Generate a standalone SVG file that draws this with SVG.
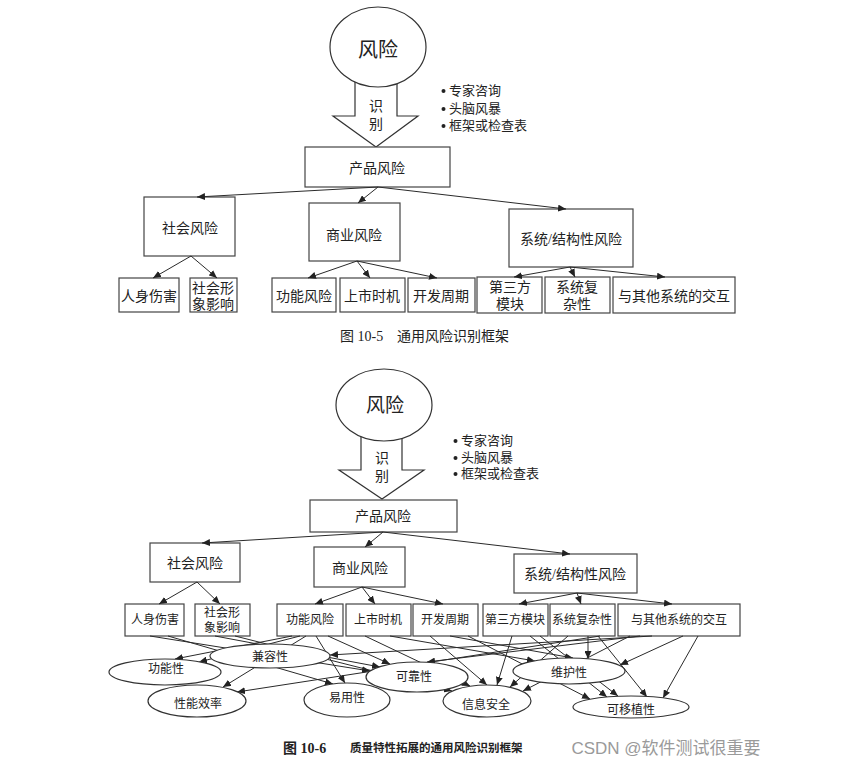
<svg xmlns="http://www.w3.org/2000/svg" width="865" height="768" viewBox="0 0 865 768">
<defs>
<marker id="ah" markerUnits="userSpaceOnUse" markerWidth="9" markerHeight="7" refX="8" refY="3.5" orient="auto">
<path d="M0,0 L8,3.5 L0,7 Z" fill="#222"/>
</marker>
<style>
text{font-family:"Liberation Serif","Noto Sans CJK SC",serif;fill:#222;text-anchor:middle;dominant-baseline:central}
.box{fill:#fff;stroke:#444;stroke-width:1.2}
.ell{fill:#fff;stroke:#333;stroke-width:1.2}
.blk{fill:#fff;stroke:#333;stroke-width:1.2}
.c line{stroke:#2a2a2a;stroke-width:1;marker-end:url(#ah)}
.t14{font-size:14px}
.t12{font-size:12px}
.bul{font-size:13px;text-anchor:start}
.dot{fill:#222}
.capl{text-anchor:start}
</style>
</defs>
<rect width="865" height="768" fill="#fff"/>

<!-- ===== Figure 10-5 ===== -->
<g id="arrow1"><polygon class="blk" points="355,80 397,80 397,116 418,116 376,147 333,116 355,116"/><text x="376" y="106" class="t14">识</text><text x="376" y="124" class="t14">别</text></g>
<g id="risk1"><ellipse class="ell" cx="378" cy="47" rx="48" ry="40"/><text x="378" y="50" style="font-size:20px">风险</text></g>
<g id="methods1">
<circle class="dot" cx="443.5" cy="91" r="2"/><text x="449" y="90" class="bul">专家咨询</text>
<circle class="dot" cx="443.5" cy="109" r="2"/><text x="449" y="108" class="bul">头脑风暴</text>
<circle class="dot" cx="443.5" cy="126" r="2"/><text x="449" y="125" class="bul">框架或检查表</text>
</g>
<g id="prod1"><rect class="box" x="305" y="147" width="145" height="40"/><text x="377" y="168" class="t14">产品风险</text></g>
<g id="soc1"><rect class="box" x="144" y="197" width="91" height="59"/><text x="190" y="228" class="t14">社会风险</text></g>
<g id="biz1"><rect class="box" x="309" y="203" width="91" height="58"/><text x="354" y="235" class="t14">商业风险</text></g>
<g id="sys1"><rect class="box" x="509" y="209" width="124" height="58"/><text x="571" y="239" class="t14">系统/结构性风险</text></g>
<g id="l1a"><rect class="box" x="119" y="278" width="60" height="34"/><text x="149" y="296" class="t14">人身伤害</text></g>
<g id="l1b"><rect class="box" x="190" y="278" width="47" height="34"/><text x="213" y="288" class="t14">社会形</text><text x="213" y="304" class="t14">象影响</text></g>
<g id="l1c"><rect class="box" x="272" y="278" width="64" height="34"/><text x="304" y="296" class="t14">功能风险</text></g>
<g id="l1d"><rect class="box" x="340" y="278" width="65" height="34"/><text x="372" y="296" class="t14">上市时机</text></g>
<g id="l1e"><rect class="box" x="408" y="278" width="67" height="34"/><text x="441" y="296" class="t14">开发周期</text></g>
<g id="l1f"><rect class="box" x="477" y="277" width="65" height="36"/><text x="510" y="287" class="t14">第三方</text><text x="510" y="304" class="t14">模块</text></g>
<g id="l1g"><rect class="box" x="545" y="277" width="65" height="36"/><text x="577" y="287" class="t14">系统复</text><text x="577" y="304" class="t14">杂性</text></g>
<g id="l1h"><rect class="box" x="613" y="277" width="122" height="36"/><text x="674" y="296" class="t14">与其他系统的交互</text></g>
<g id="caption1"><text x="340" y="336" class="capl" style="font-size:14px">图 10-5</text><text x="397" y="336" class="capl" style="font-size:14px">通用风险识别框架</text></g>

<!-- ===== Figure 10-6 ===== -->
<g id="arrow2"><polygon class="blk" points="361,432 402,432 402,470 424,470 382,499 339,470 361,470"/><text x="382" y="458" class="t14">识</text><text x="382" y="476" class="t14">别</text></g>
<g id="risk2"><ellipse class="ell" cx="384" cy="405" rx="48" ry="36"/><text x="385" y="405" style="font-size:19px">风险</text></g>
<g id="methods2">
<circle class="dot" cx="455.5" cy="441" r="2"/><text x="461" y="440" class="bul">专家咨询</text>
<circle class="dot" cx="455.5" cy="458" r="2"/><text x="461" y="457" class="bul">头脑风暴</text>
<circle class="dot" cx="455.5" cy="474" r="2"/><text x="461" y="473" class="bul">框架或检查表</text>
</g>
<g id="prod2"><rect class="box" x="310" y="500" width="147" height="32"/><text x="383" y="516" class="t14">产品风险</text></g>
<g id="soc2"><rect class="box" x="150" y="543" width="90" height="39"/><text x="195" y="563" class="t14">社会风险</text></g>
<g id="biz2"><rect class="box" x="314" y="547" width="91" height="40"/><text x="360" y="568" class="t14">商业风险</text></g>
<g id="sys2"><rect class="box" x="514" y="554" width="123" height="39"/><text x="575" y="574" class="t14">系统/结构性风险</text></g>
<g id="l2a"><rect class="box" x="125" y="604" width="59" height="32"/><text x="155" y="620" class="t12">人身伤害</text></g>
<g id="l2b"><rect class="box" x="195" y="604" width="55" height="32"/><text x="222" y="613" class="t12">社会形</text><text x="222" y="628" class="t12">象影响</text></g>
<g id="l2c"><rect class="box" x="277" y="604" width="66" height="32"/><text x="310" y="620" class="t12">功能风险</text></g>
<g id="l2d"><rect class="box" x="346" y="604" width="65" height="32"/><text x="378" y="620" class="t12">上市时机</text></g>
<g id="l2e"><rect class="box" x="413" y="604" width="65" height="32"/><text x="445" y="620" class="t12">开发周期</text></g>
<g id="l2f"><rect class="box" x="483" y="604" width="65" height="32"/><text x="515" y="620" class="t12">第三方模块</text></g>
<g id="l2g"><rect class="box" x="550" y="604" width="65" height="32"/><text x="582" y="620" class="t12">系统复杂性</text></g>
<g id="l2h"><rect class="box" x="618" y="604" width="122" height="32"/><text x="679" y="620" class="t12">与其他系统的交互</text></g>

<g id="connectors" class="c">
<line x1="378" y1="187" x2="197" y2="197"/>
<line x1="378" y1="187" x2="358" y2="203"/>
<line x1="378" y1="187" x2="566" y2="209"/>
<line x1="191" y1="256" x2="153" y2="278"/>
<line x1="191" y1="256" x2="217" y2="278"/>
<line x1="357" y1="261" x2="308" y2="278"/>
<line x1="357" y1="261" x2="370" y2="278"/>
<line x1="357" y1="261" x2="437" y2="278"/>
<line x1="570" y1="267" x2="514" y2="277"/>
<line x1="570" y1="267" x2="575" y2="277"/>
<line x1="570" y1="267" x2="665" y2="277"/>
<line x1="383" y1="532" x2="202" y2="543"/>
<line x1="383" y1="532" x2="365" y2="547"/>
<line x1="383" y1="532" x2="570" y2="554"/>
<line x1="197" y1="582" x2="159" y2="604"/>
<line x1="197" y1="582" x2="220" y2="604"/>
<line x1="362" y1="587" x2="315" y2="604"/>
<line x1="362" y1="587" x2="375" y2="604"/>
<line x1="362" y1="587" x2="443" y2="604"/>
<line x1="577" y1="593" x2="519" y2="604"/>
<line x1="577" y1="593" x2="581" y2="604"/>
<line x1="577" y1="593" x2="672" y2="604"/>
<line x1="292" y1="636" x2="175" y2="659"/>
<line x1="300" y1="636" x2="199" y2="662"/>
<line x1="306" y1="636" x2="223" y2="687"/>
<line x1="316" y1="636" x2="345" y2="683"/>
<line x1="328" y1="636" x2="390" y2="664"/>
<line x1="150" y1="636" x2="370" y2="671"/>
<line x1="168" y1="636" x2="333" y2="684"/>
<line x1="215" y1="636" x2="380" y2="667"/>
<line x1="235" y1="636" x2="452" y2="691"/>
<line x1="600" y1="636" x2="237" y2="692"/>
<line x1="365" y1="636" x2="470" y2="686"/>
<line x1="390" y1="636" x2="535" y2="661"/>
<line x1="430" y1="636" x2="487" y2="685"/>
<line x1="450" y1="636" x2="573" y2="658"/>
<line x1="468" y1="636" x2="590" y2="699"/>
<line x1="512" y1="636" x2="497" y2="685"/>
<line x1="530" y1="636" x2="607" y2="697"/>
<line x1="540" y1="636" x2="618" y2="696"/>
<line x1="588" y1="636" x2="588" y2="659"/>
<line x1="568" y1="636" x2="510" y2="687"/>
<line x1="598" y1="636" x2="647" y2="697"/>
<line x1="683" y1="636" x2="620" y2="665"/>
<line x1="698" y1="636" x2="663" y2="698"/>
<line x1="640" y1="636" x2="427" y2="662"/>
<line x1="652" y1="636" x2="330" y2="655"/>
<line x1="630" y1="636" x2="523" y2="691"/>
</g>

<g id="q-compat"><ellipse class="ell" cx="270" cy="656" rx="60" ry="12"/><text x="270" y="657" class="t12">兼容性</text></g>
<g id="q-func"><ellipse class="ell" cx="165" cy="672" rx="56" ry="13"/><text x="166" y="669" class="t12">功能性</text></g>
<g id="q-perf"><ellipse class="ell" cx="197" cy="701" rx="49" ry="16"/><text x="198" y="704" class="t12">性能效率</text></g>
<g id="q-usab"><ellipse class="ell" cx="347" cy="700" rx="43" ry="17"/><text x="347" y="698" class="t12">易用性</text></g>
<g id="q-rel"><ellipse class="ell" cx="417" cy="677" rx="51" ry="15"/><text x="414" y="677" class="t12">可靠性</text></g>
<g id="q-sec"><ellipse class="ell" cx="487" cy="701" rx="44" ry="16"/><text x="486" y="705" class="t12">信息安全</text></g>
<g id="q-main"><ellipse class="ell" cx="569" cy="671" rx="56" ry="13"/><text x="569" y="673" class="t12">维护性</text></g>
<g id="q-port"><ellipse class="ell" cx="631" cy="707" rx="58" ry="11"/><text x="631" y="710" class="t12">可移植性</text></g>

<g id="caption2"><text x="283" y="748" class="capl" style="font-size:14px;font-weight:bold">图 10-6</text><text x="350" y="748" class="capl" style="font-size:11.5px;font-weight:bold">质量特性拓展的通用风险识别框架</text></g>
<text x="666" y="748" style="font-family:'Liberation Sans','Noto Sans CJK SC',sans-serif;font-size:17px;fill:#9a9a9a">CSDN @软件测试很重要</text>
</svg>
